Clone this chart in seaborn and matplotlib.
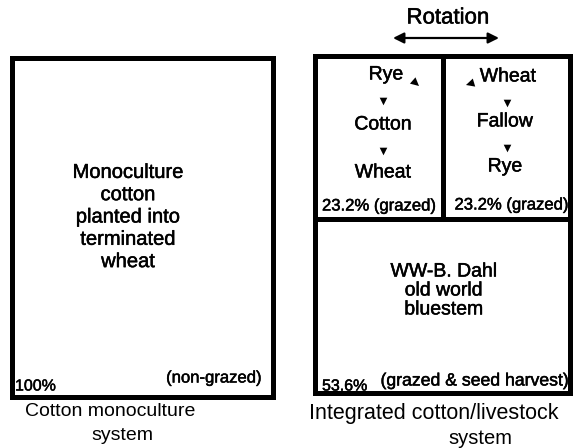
import matplotlib
matplotlib.use("Agg")
import matplotlib.pyplot as plt
import matplotlib.patheffects as pe
import seaborn as sns
from matplotlib.patches import Rectangle

sns.set_theme(style="white")
plt.rcParams["font.family"] = ["Liberation Sans", "DejaVu Sans"]
plt.rcParams["text.color"] = "black"

# systems and their land shares
system_names = ["Cotton monoculture", "Integrated cotton/livestock"]
system_second = ["system", "system"]
paddock_labels = ["Monoculture\ncotton\nplanted into\nterminated\nwheat",
                  "WW-B. Dahl\nold world\nbluestem"]
shares = ["100%", "23.2%", "23.2%", "53.6%"]
uses = ["(non-grazed)", "(grazed)", "(grazed)", "(grazed & seed harvest)"]
rotation_a = ["Rye", "Cotton", "Wheat"]
rotation_b = ["Wheat", "Fallow", "Rye"]

fig = plt.figure(figsize=(5.73, 4.48), dpi=100)
ax = fig.add_axes([0, 0, 1, 1])
ax.set_xlim(0, 573)
ax.set_ylim(448, 0)
ax.axis("off")

# darken the glyphs a little, like the scanned print
ink = [pe.withStroke(linewidth=0.35, foreground="black")]

lw = 3.6
# outer boxes
ax.add_patch(Rectangle((12, 58), 261, 339, fill=False, lw=lw, ec="black"))
ax.add_patch(Rectangle((315, 56), 255, 337, fill=False, lw=lw, ec="black"))
# dividers in the integrated system
ax.plot([315, 570], [219, 219], color="black", lw=lw)
ax.plot([443, 443], [56, 219], color="black", lw=lw)

fs = 14
ax.text(128, 217, paddock_labels[0], ha="center", va="center", fontsize=14.5,
        linespacing=1.22, path_effects=ink)
ax.text(444, 291, paddock_labels[1], ha="center", va="center", fontsize=fs,
        linespacing=1.15, path_effects=ink)

# crop sequences
for name, x, y in zip(rotation_a, [386, 383, 383], [75, 125, 173]):
    ax.text(x, y, name, ha="center", va="center", fontsize=fs, path_effects=ink)
for name, x, y in zip(rotation_b, [508, 505, 505], [77, 122, 167]):
    ax.text(x, y, name, ha="center", va="center", fontsize=fs, path_effects=ink)

# small arrowheads
sns.scatterplot(x=[383, 383, 507, 507], y=[101, 151, 103, 148], marker="v",
                color="black", s=30, linewidth=0, ax=ax, legend=False)
head = dict(arrowstyle="-|>", color="black", lw=0.01, mutation_scale=15,
            shrinkA=0, shrinkB=0)
ax.annotate("", xy=(419, 86), xytext=(411, 79), arrowprops=head)
ax.annotate("", xy=(466, 85), xytext=(476, 82), arrowprops=head)

# share / use annotations
fs2 = 12
ax.text(15, 386, shares[0], ha="left", va="center", fontsize=fs2 - 0.5, path_effects=ink)
ax.text(262, 378, uses[0], ha="right", va="center", fontsize=fs2, path_effects=ink)
ax.text(322, 206, shares[1] + " " + uses[1], ha="left", va="center", fontsize=fs2,
        path_effects=ink)
ax.text(569, 205, shares[2] + " " + uses[2], ha="right", va="center", fontsize=fs2,
        path_effects=ink)
ax.text(322, 386, shares[3], ha="left", va="center", fontsize=fs2 - 0.5, path_effects=ink)
ax.text(569, 381, uses[3], ha="right", va="center", fontsize=12.7, path_effects=ink)

# rotation arrow
ax.text(448, 18, "Rotation", ha="center", va="center", fontsize=16, path_effects=ink)
ax.annotate("", xy=(499, 38), xytext=(393, 38),
            arrowprops=dict(arrowstyle="<|-|>", color="black", lw=1.6,
                            mutation_scale=16, shrinkA=0, shrinkB=0))

# system captions
ax.text(110, 412, system_names[0], ha="center", va="center", fontsize=14)
ax.text(122, 436, system_second[0], ha="center", va="center", fontsize=14)
ax.text(434, 413, system_names[1], ha="center", va="center", fontsize=15.5)
ax.text(480, 438, system_second[1], ha="center", va="center", fontsize=14.5)

fig.savefig("out.png", dpi=100, facecolor="white")
